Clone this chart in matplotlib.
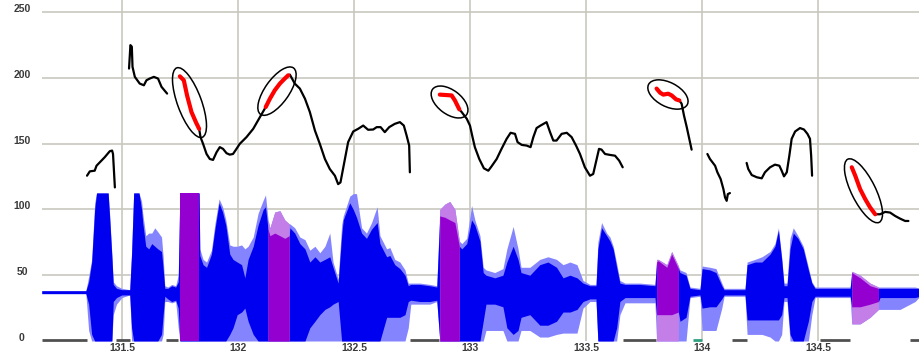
import math

import matplotlib
matplotlib.use("Agg")
import matplotlib.pyplot as plt
import numpy as np
from matplotlib.patches import Ellipse
from matplotlib.transforms import IdentityTransform, ScaledTranslation

nan = float("nan")

# pitch track in Hz, NaN splits the voiced stretches
pitch_t = [
    131.349, 131.361, 131.382, 131.390, 131.404, 131.425, 131.447, 131.457, 131.461, 131.464, 131.469, nan,
    131.530, 131.536, 131.542, 131.545, 131.555, 131.576, 131.594, 131.605, 131.619, 131.637, 131.655,
    131.670, 131.694, nan,
    131.749, 131.766, 131.780, 131.799, 131.818, 131.832, 131.838, 131.849, 131.864, 131.878, 131.892,
    131.907, 131.921, 131.935, 131.950, 131.964, 131.978, 131.993, 132.007, 132.036, 132.065, 132.094,
    132.119, 132.137, 132.158, 132.180, 132.201, 132.216, 132.223, 132.244, 132.266, 132.288, 132.309,
    132.331, 132.352, 132.374, 132.395, 132.417, 132.431, 132.441, 132.460, 132.474, 132.496, 132.517,
    132.539, 132.560, 132.582, 132.597, 132.614, 132.632, 132.651, 132.675, 132.697, 132.714, 132.726,
    132.737, 132.740, nan,
    132.869, 132.920, 132.934, 132.953, 132.963, 132.985, 132.999, 133.010, 133.020, 133.039, 133.059,
    133.078, 133.092, 133.114, 133.135, 133.157, 133.174, 133.193, 133.204, 133.222, 133.243, 133.260,
    133.272, 133.286, 133.303, 133.322, 133.329, 133.344, 133.358, 133.372, 133.394, 133.416, 133.437,
    133.456, 133.473, 133.494, 133.516, 133.530, 133.545, 133.555, 133.566, 133.581, 133.602, 133.624,
    133.642, 133.657, nan,
    133.803, 133.818, 133.832, 133.853, 133.868, 133.887, 133.901, 133.911, 133.921, 133.933, 133.944,
    133.954, nan,
    134.022, 134.033, 134.055, 134.065, 134.079, 134.091, 134.098, 134.105, 134.110, 134.119, nan,
    134.191, 134.198, 134.213, 134.235, 134.256, 134.270, 134.292, 134.313, 134.332, 134.342, 134.352,
    134.364, 134.375, 134.385, 134.400, 134.421, 134.438, 134.453, 134.464, 134.469, 134.473, nan,
    134.644, 134.659, 134.680, 134.702, 134.723, 134.745, 134.766, 134.788, 134.809, 134.831, 134.852,
    134.874, 134.888,
]
pitch_hz = [
    125.6, 128.9, 129.4, 133.2, 135.8, 139.6, 144.2, 144.7, 142.1, 132.0, 116.7, nan,
    207.0, 224.8, 223.6, 208.3, 200.7, 195.6, 194.3, 198.1, 199.4, 200.7, 199.4,
    193.1, 188.0, nan,
    201.1, 198.1, 186.6, 174.0, 166.3, 161.2, 154.9, 149.8, 142.1, 138.3, 137.6,
    143.4, 147.3, 146.0, 142.7, 141.6, 142.1, 146.0, 149.8, 154.9, 161.2, 170.2,
    177.8, 184.1, 190.5, 195.6, 199.4, 201.9, 202.4, 195.6, 191.8, 184.1, 174.0,
    159.9, 149.8, 138.3, 130.7, 125.6, 119.2, 120.5, 138.3, 151.1, 159.2, 161.2,
    163.7, 160.5, 160.7, 162.5, 162.5, 158.7, 162.5, 165.0, 166.3, 163.7, 156.1,
    148.5, 128.2, nan,
    187.2, 186.6, 182.8, 176.0, 174.0, 168.9, 163.7, 154.9, 147.3, 138.3, 131.2,
    129.4, 132.7, 138.3, 146.0, 153.6, 158.2, 157.4, 151.1, 149.0, 148.5, 147.3,
    154.9, 161.8, 163.7, 165.6, 166.3, 158.7, 152.3, 152.3, 157.4, 158.2, 154.9,
    148.5, 142.1, 132.0, 125.6, 126.9, 138.3, 146.0, 145.4, 142.1, 141.4, 140.8,
    137.0, 132.0, nan,
    191.8, 188.7, 187.2, 187.9, 186.6, 183.6, 182.8, 180.3, 171.4, 162.5, 153.6,
    145.4, nan,
    142.1, 138.3, 133.2, 128.2, 123.1, 115.4, 109.1, 106.5, 111.6, 112.4, nan,
    135.3, 130.7, 126.1, 124.4, 123.6, 128.2, 132.0, 134.0, 133.2, 129.4, 125.1,
    128.2, 140.8, 153.6, 159.2, 161.8, 160.7, 157.4, 153.6, 140.8, 125.6, nan,
    132.0, 125.6, 115.4, 107.8, 101.5, 96.3, 96.3, 98.1, 97.6, 95.0, 93.0,
    91.2, 91.2,
]

# stretches marked in red on the pitch and purple on the waveform
marked = [(131.749, 131.832), (132.119, 132.220), (132.869, 132.953),
          (133.803, 133.901), (134.644, 134.760)]

# waveform envelope: solid body and the fainter spikes around it
wave_t = [
    131.154, 131.344, 131.356, 131.369, 131.382, 131.390, 131.440, 131.447, 131.456, 131.462,
    131.476, 131.499, 131.533, 131.541, 131.550, 131.573, 131.584, 131.589, 131.602, 131.615,
    131.628, 131.641, 131.654, 131.670, 131.677, 131.684, 131.697, 131.714, 131.731, 131.742,
    131.749, 131.832, 131.835, 131.849, 131.864, 131.885, 131.900, 131.918, 131.933, 131.947,
    131.964, 131.978, 131.996, 132.015, 132.029, 132.043, 132.065, 132.086, 132.108, 132.118,
    132.129, 132.137, 132.158, 132.180, 132.201, 132.220, 132.223, 132.244, 132.266, 132.288,
    132.309, 132.331, 132.352, 132.374, 132.395, 132.409, 132.431, 132.446, 132.453, 132.481,
    132.496, 132.510, 132.532, 132.553, 132.575, 132.599, 132.611, 132.640, 132.654, 132.675,
    132.697, 132.719, 132.733, 132.744, 132.783, 132.826, 132.856, 132.869, 132.891, 132.912,
    132.934, 132.953, 132.964, 132.985, 133.006, 133.020, 133.042, 133.056, 133.068, 133.106,
    133.141, 133.158, 133.185, 133.206, 133.219, 133.257, 133.300, 133.335, 133.372, 133.400,
    133.430, 133.460, 133.486, 133.516, 133.542, 133.550, 133.566, 133.588, 133.602, 133.616,
    133.631, 133.645, 133.667, 133.731, 133.796, 133.803, 133.810, 133.847, 133.868, 133.897,
    133.904, 133.930, 133.947, 133.990, 133.999, 134.033, 134.059, 134.084, 134.094, 134.184,
    134.193, 134.227, 134.257, 134.292, 134.313, 134.328, 134.342, 134.352, 134.365, 134.378,
    134.392, 134.412, 134.435, 134.457, 134.472, 134.486, 134.637, 134.644, 134.680, 134.723,
    134.759, 134.766, 134.852, 134.917, 134.938,
]
wave_hi = [
    38.2, 38.2, 45, 60, 100, 112.5, 112.5, 92, 64, 43,
    40, 39, 39, 66, 112.5, 112.5, 100, 90, 72, 70,
    74, 72, 70, 68, 55, 40, 40, 42, 41, 45,
    112.5, 112.5, 65, 58, 56, 66, 85, 105, 98, 88,
    66, 62, 60, 58, 48, 62, 72, 88, 100, 102,
    85, 80, 82, 80, 78, 80, 86, 82, 74, 70,
    60, 64, 60, 62, 64, 56, 44, 80, 92, 105,
    100, 94, 82, 78, 85, 90, 74, 64, 65, 58,
    55, 50, 42, 43, 43, 42, 41, 95, 94, 92,
    90, 72, 70, 74, 92, 88, 76, 52, 50, 48,
    50, 60, 72, 62, 52, 50, 58, 60, 56, 48,
    50, 48, 44, 42, 42, 70, 86, 80, 76, 70,
    56, 44, 43, 43, 42, 60, 61, 56, 66, 55,
    52, 50, 40, 39, 55, 54, 52, 42, 39, 39,
    58, 60, 60, 66, 72, 84, 62, 42, 42, 70,
    82, 78, 70, 54, 44, 40, 40, 52, 48, 42,
    40, 40, 40, 40, 40,
]
wave_lo = [
    36.0, 36.0, 28, 5, 0, 0, 0, 0, 0, 30,
    33, 35, 35, 10, 0, 0, 0, 0, 0, 0,
    0, 0, 0, 5, 20, 34, 32, 30, 31, 25,
    0, 0, 0, 0, 0, 0, 0, 0, 0, 0,
    5, 10, 20, 22, 25, 15, 5, 0, 0, 0,
    0, 0, 0, 0, 0, 0, 0, 0, 0, 0,
    10, 15, 20, 24, 26, 28, 30, 0, 0, 0,
    0, 0, 0, 0, 0, 0, 0, 18, 18, 18,
    18, 20, 30, 31, 30, 30, 31, 0, 0, 0,
    0, 0, 0, 0, 0, 0, 0, 15, 28, 28,
    26, 10, 5, 8, 18, 20, 12, 12, 15, 22,
    22, 24, 30, 32, 32, 0, 0, 0, 0, 0,
    10, 30, 33, 33, 33, 20, 20, 20, 20, 22,
    15, 18, 34, 35, 25, 26, 26, 32, 35, 35,
    16, 16, 16, 16, 16, 16, 20, 33, 33, 5,
    0, 0, 0, 15, 30, 34, 34, 26, 26, 28,
    30, 33, 33, 33, 34,
]
spike_hi = [
    38.2, 38.2, 49, 62, 105, 112.5, 112.5, 95, 66, 45,
    42, 40, 39, 68, 112.5, 112.5, 106, 97, 80, 82,
    82, 86, 83, 79, 64, 42, 41, 43, 42, 50,
    112.5, 112.5, 70, 62, 60, 69, 89, 108, 102, 92,
    73, 72, 72, 73, 70, 72, 79, 97, 107, 111,
    92, 86, 98, 99, 92, 89, 89, 86, 79, 77,
    69, 72, 67, 72, 82, 60, 47, 88, 95, 110,
    112, 112, 86, 82, 90, 102, 80, 70, 71, 62,
    60, 54, 44, 44, 44, 43, 42, 100, 104, 106,
    100, 76, 74, 78, 103, 92, 80, 56, 54, 52,
    55, 70, 87, 70, 56, 56, 62, 64, 62, 58,
    60, 58, 46, 43, 43, 75, 90, 82, 79, 72,
    59, 46, 44, 44, 43, 62, 62, 58, 68, 57,
    54, 52, 41, 40, 57, 56, 55, 44, 40, 40,
    60, 62, 64, 68, 74, 86, 64, 44, 44, 78,
    86, 80, 72, 56, 45, 41, 41, 53, 50, 44,
    41, 41, 41, 41, 40,
]
spike_lo = [
    36.0, 36.0, 8, 0, 0, 0, 0, 0, 0, 20,
    28, 33, 35, 0, 0, 0, 0, 0, 0, 0,
    0, 0, 0, 0, 5, 30, 30, 29, 30, 10,
    0, 0, 0, 0, 0, 0, 0, 0, 0, 0,
    0, 0, 0, 0, 0, 0, 0, 0, 0, 0,
    0, 0, 0, 0, 0, 0, 0, 0, 0, 0,
    0, 0, 0, 0, 0, 0, 0, 0, 0, 0,
    0, 0, 0, 0, 0, 0, 0, 0, 0, 0,
    0, 0, 10, 28, 28, 28, 30, 0, 0, 0,
    0, 0, 0, 0, 0, 0, 0, 0, 8, 8,
    8, 0, 0, 0, 8, 8, 3, 3, 5, 6,
    6, 6, 25, 30, 30, 0, 0, 0, 0, 0,
    0, 20, 29, 29, 29, 0, 0, 0, 0, 0,
    0, 0, 33, 34, 8, 8, 8, 25, 34, 34,
    5, 5, 5, 3, 0, 0, 5, 30, 30, 0,
    0, 0, 0, 0, 20, 33, 33, 13, 13, 18,
    24, 24, 24, 30, 34,
]

# silent stretches marked along the baseline
silence = [(131.157, 131.349), (131.473, 131.533), (131.691, 131.741), (132.740, 132.866),
           (133.657, 133.799), (134.127, 134.191), (134.507, 134.637), (134.895, 134.938)]
silence_teal = [(133.961, 133.997)]

x_ticks = [131.5, 132, 132.5, 133, 133.5, 134, 134.5]
x_labels = ["131.5", "132", "132.5", "133", "133.5", "134", "134.5"]
y_ticks = [0, 50, 100, 150, 200, 250]

W, H = 920, 353
fig = plt.figure(figsize=(W / 100, H / 100), dpi=100)
ax = fig.add_axes([42 / W, 12 / H, 878 / W, 341 / H])
ax.set_xlim(131.155, 134.938)
ax.set_ylim(0, 259.1)
for s in ax.spines.values():
    s.set_visible(False)

label_font = dict(family="Liberation Sans", weight="bold", size=7.5, color="#3a3a3a")

ax.set_xticks(x_ticks)
ax.set_xticklabels(x_labels)
ax.set_yticks(y_ticks)
ax.grid(color="#c8c8c0", lw=1.2)
ax.set_axisbelow(True)
ax.yaxis.get_gridlines()[0].set_visible(False)
ax.tick_params(length=0, labelsize=7.5, labelcolor="#3a3a3a", labelleft=False)
ax.tick_params(axis="x", pad=1.5)
for lab in ax.get_xticklabels():
    lab.set_fontfamily("Liberation Sans")
    lab.set_fontweight("bold")

# y labels sit centred left of the plot, a little above their grid line
ylab_tr = ax.get_yaxis_transform() + ScaledTranslation(-0.20, 0.03, fig.dpi_scale_trans)
for v in y_ticks:
    ax.text(0, v, str(v), transform=ylab_tr, ha="center", va="center", **label_font)

for a, b in silence:
    ax.hlines(0.6, a, b, color="#505050", lw=2, zorder=1.5, clip_on=False)
for a, b in silence_teal:
    ax.hlines(0.6, a, b, color="#30a080", lw=2, zorder=1.5, clip_on=False)

t = np.array(wave_t)
hi, lo = np.array(wave_hi), np.array(wave_lo)
shi, slo = np.array(spike_hi), np.array(spike_lo)
ax.fill_between(t, slo, shi, color="#8484ff", lw=0, zorder=2)
ax.fill_between(t, lo, hi, color="#0000f0", lw=0, zorder=3)
for a, b in marked:
    m = (t >= a) & (t <= b)
    ax.fill_between(t[m], slo[m], shi[m], color="#c47ee8", lw=0, zorder=4)
    ax.fill_between(t[m], lo[m], hi[m], color="#9400d0", lw=0, zorder=5)

pt = np.array(pitch_t)
ph = np.array(pitch_hz)
ax.plot(pt, ph, color="black", lw=1.6, zorder=6, solid_capstyle="round")
for a, b in marked:
    m = (pt >= a) & (pt <= b)
    ax.plot(pt[m], ph[m], color="#ff0000", lw=3, zorder=7, solid_capstyle="round")

    # ring each red stretch with a tilted ellipse
    p0 = ax.transData.transform((pt[m][0], ph[m][0]))
    p1 = ax.transData.transform((pt[m][-1], ph[m][-1]))
    dx, dy = p1 - p0
    ell = Ellipse(((p0[0] + p1[0]) / 2, (p0[1] + p1[1]) / 2),
                  width=math.hypot(dx, dy) + 18, height=24,
                  angle=math.degrees(math.atan2(dy, dx)),
                  transform=IdentityTransform(), fill=False, ec="black", lw=1.1, zorder=8)
    ax.add_patch(ell)

fig.savefig("out.png", dpi=100)
